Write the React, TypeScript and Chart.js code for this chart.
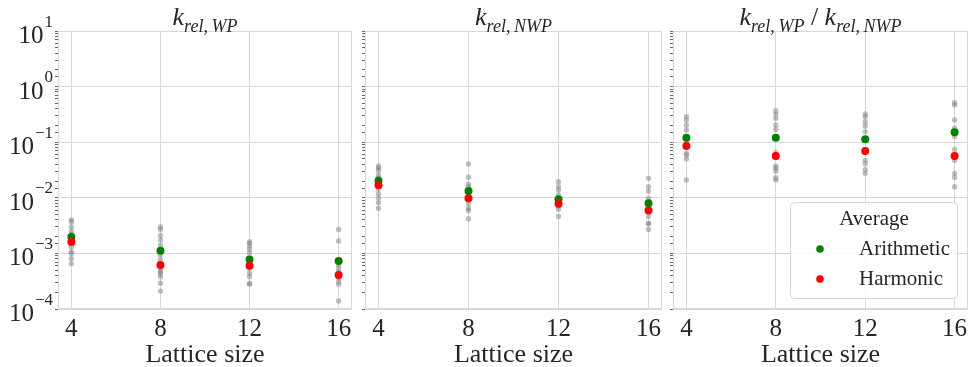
import React, { useEffect, useRef } from "react";
import { Chart, registerables } from "chart.js";

Chart.register(...registerables);

// ---------------- data ----------------
const latticeSizes = [4, 8, 12, 16];
const yDecades = [-4, -3, -2, -1, 0, 1];

const wpSamples = [
  [0.004, 0.0037, 0.003, 0.0025, 0.0022, 0.0019, 0.0017, 0.00132, 0.00107, 0.001, 0.00081, 0.00065],
  [0.003, 0.0027, 0.0021, 0.00174, 0.00141, 0.00112, 0.00093, 0.00076, 0.00062, 0.00058, 0.00052, 0.00047, 0.00043, 0.00038, 0.00029, 0.00021],
  [0.00162, 0.00152, 0.00136, 0.00119, 0.00102, 0.00078, 0.00066, 0.0006, 0.00054, 0.00044, 0.00038, 0.00029, 0.00028],
  [0.0027, 0.00167, 0.00073, 0.00062, 0.00054, 0.00047, 0.00041, 0.00036, 0.00031, 0.00028, 0.00014],
];
const wpArithmetic = [0.00197, 0.00112, 0.00078, 0.00073];
const wpHarmonic = [0.0016, 0.00062, 0.0006, 0.00041];

const nwpSamples = [
  [0.0373, 0.034, 0.0309, 0.0258, 0.0225, 0.0203, 0.0168, 0.0142, 0.0117, 0.0098, 0.0082, 0.0065],
  [0.0406, 0.0234, 0.0175, 0.0159, 0.0132, 0.011, 0.0091, 0.0078, 0.0065, 0.0059, 0.0042],
  [0.0195, 0.0159, 0.0138, 0.0112, 0.0094, 0.0085, 0.0078, 0.0071, 0.0062, 0.0046],
  [0.0224, 0.0159, 0.0132, 0.0098, 0.008, 0.0072, 0.0059, 0.0056, 0.0046, 0.0035, 0.0034, 0.0027],
];
const nwpArithmetic = [0.0203, 0.0132, 0.0094, 0.008];
const nwpHarmonic = [0.0168, 0.0098, 0.0078, 0.0059];

const ratioSamples = [
  [0.288, 0.251, 0.204, 0.166, 0.12, 0.105, 0.0855, 0.063, 0.059, 0.05, 0.021],
  [0.369, 0.32, 0.27, 0.204, 0.17, 0.12, 0.065, 0.0565, 0.037, 0.034, 0.03, 0.023, 0.021],
  [0.323, 0.288, 0.234, 0.195, 0.155, 0.113, 0.0695, 0.047, 0.041, 0.032, 0.0275],
  [0.513, 0.467, 0.251, 0.178, 0.151, 0.126, 0.074, 0.0565, 0.047, 0.0275, 0.0233, 0.0158],
];
const ratioArithmetic = [0.12, 0.12, 0.113, 0.151];
const ratioHarmonic = [0.0855, 0.0565, 0.0695, 0.0565];

const xTitle = "Lattice size";
const legendTitle = "Average";
const arithLabel = "Arithmetic";
const harmLabel = "Harmonic";

// ---------------- style ----------------
const FONT = '"Liberation Serif", "Times New Roman", serif';
const TEXT = "#262626";
const GRID = "#d8d8d8";
const GREEN = "#008000";
const RED = "#ff0000";
const GREY = "rgba(128,128,128,0.5)";

type Piece = { t: string; it?: boolean; sub?: boolean };

type PanelSpec = {
  left: number;
  width: number;
  yAxisWidth: number;
  padRight: number;
  title: Piece[];
  samples: number[][];
  arith: number[];
  harm: number[];
  yLabels: boolean;
  legend: boolean;
};

const kWP: Piece[] = [
  { t: "k", it: true },
  { t: "rel,\u2009WP", it: true, sub: true },
];
const kNWP: Piece[] = [
  { t: "k", it: true },
  { t: "rel,\u2009NWP", it: true, sub: true },
];

const panels: PanelSpec[] = [
  { left: 0, width: 356, yAxisWidth: 58, padRight: 3, title: kWP, samples: wpSamples, arith: wpArithmetic, harm: wpHarmonic, yLabels: true, legend: false },
  { left: 356, width: 310, yAxisWidth: 9, padRight: 4, title: kNWP, samples: nwpSamples, arith: nwpArithmetic, harm: nwpHarmonic, yLabels: false, legend: false },
  { left: 666, width: 306, yAxisWidth: 7, padRight: 1, title: [...kWP, { t: " / " }, ...kNWP], samples: ratioSamples, arith: ratioArithmetic, harm: ratioHarmonic, yLabels: false, legend: true },
];

const isDecade = (v: number) => Math.abs(Math.log10(v) - Math.round(Math.log10(v))) < 1e-6;

function drawPieces(ctx: CanvasRenderingContext2D, pieces: Piece[], cx: number, baseline: number) {
  const size = 26;
  const subSize = 18;
  const fontFor = (p: Piece) => `${p.it ? "italic " : ""}${p.sub ? subSize : size}px ${FONT}`;
  let total = 0;
  const widths = pieces.map((p) => {
    ctx.font = fontFor(p);
    const w = ctx.measureText(p.t).width;
    total += w;
    return w;
  });
  let x = cx - total / 2;
  ctx.textAlign = "left";
  ctx.textBaseline = "alphabetic";
  ctx.fillStyle = TEXT;
  pieces.forEach((p, i) => {
    ctx.font = fontFor(p);
    ctx.fillText(p.t, x, p.sub ? baseline + 7 : baseline);
    x += widths[i];
  });
}

function Panel({ spec }: { spec: PanelSpec }) {
  const ref = useRef<HTMLCanvasElement>(null);
  useEffect(() => {
    const canvas = ref.current;
    if (!canvas) return;
    const decor = {
      id: "decor",
      beforeDatasetsDraw(chart: any) {
        const { ctx, chartArea: ca } = chart;
        ctx.save();
        ctx.strokeStyle = GRID;
        ctx.lineWidth = 1;
        ctx.strokeRect(ca.left + 0.5, ca.top + 0.5, ca.right - ca.left - 1, ca.bottom - ca.top - 1);
        ctx.restore();
      },
      afterDraw(chart: any) {
        const { ctx, chartArea: ca } = chart;
        ctx.save();
        drawPieces(ctx, spec.title, (ca.left + ca.right) / 2, 25);
        if (spec.yLabels) {
          const ys = chart.scales.y;
          ctx.fillStyle = TEXT;
          ctx.textBaseline = "alphabetic";
          yDecades.forEach((d) => {
            const py = ys.getPixelForValue(Math.pow(10, d));
            const exp = d < 0 ? "\u2212" + Math.abs(d) : String(d);
            ctx.font = `17px ${FONT}`;
            const we = ctx.measureText(exp).width;
            const ex = 53 - we;
            ctx.textAlign = "left";
            ctx.fillText(exp, ex, py - 4.5);
            ctx.font = `25px ${FONT}`;
            ctx.textAlign = "right";
            ctx.fillText("10", ex - 1, py + 12);
          });
        }
        if (spec.legend) {
          const bw = 167;
          const bh = 96;
          const bx = ca.right - 11 - bw;
          const by = ca.bottom - 11 - bh;
          ctx.beginPath();
          ctx.roundRect(bx + 0.5, by + 0.5, bw, bh, 4);
          ctx.fillStyle = "rgba(255,255,255,0.85)";
          ctx.fill();
          ctx.strokeStyle = GRID;
          ctx.lineWidth = 1;
          ctx.stroke();
          ctx.fillStyle = TEXT;
          ctx.font = `21px ${FONT}`;
          ctx.textAlign = "center";
          ctx.textBaseline = "middle";
          ctx.fillText(legendTitle, bx + 84, by + 17);
          const items = [
            { label: arithLabel, color: GREEN, dy: 47 },
            { label: harmLabel, color: RED, dy: 77 },
          ];
          items.forEach((it) => {
            ctx.beginPath();
            ctx.arc(bx + 30, by + it.dy, 3.8, 0, Math.PI * 2);
            ctx.fillStyle = it.color;
            ctx.fill();
            ctx.fillStyle = TEXT;
            ctx.textAlign = "left";
            ctx.fillText(it.label, bx + 69, by + it.dy);
          });
        }
        ctx.restore();
      },
    };

    const chart = new Chart(canvas, {
      type: "scatter",
      data: {
        datasets: [
          {
            label: harmLabel,
            data: latticeSizes.map((x, i) => ({ x, y: spec.harm[i] })),
            backgroundColor: RED,
            borderWidth: 0,
            pointRadius: 4,
            order: 0,
          },
          {
            label: arithLabel,
            data: latticeSizes.map((x, i) => ({ x, y: spec.arith[i] })),
            backgroundColor: GREEN,
            borderWidth: 0,
            pointRadius: 4,
            order: 1,
          },
          {
            label: "samples",
            data: spec.samples.flatMap((vals, i) => vals.map((v) => ({ x: latticeSizes[i], y: v }))),
            backgroundColor: GREY,
            borderWidth: 0,
            pointRadius: 2.7,
            order: 2,
          },
        ],
      },
      options: {
        responsive: false,
        animation: false,
        devicePixelRatio: 1,
        layout: { padding: { left: 0, right: spec.padRight, top: 31, bottom: 0 } },
        plugins: { legend: { display: false }, tooltip: { enabled: false }, title: { display: false } },
        scales: {
          x: {
            type: "linear",
            min: 3.4,
            max: 16.6,
            afterBuildTicks: (s: any) => {
              s.ticks = latticeSizes.map((v) => ({ value: v }));
            },
            afterFit: (s: any) => {
              s.height = 58;
              s.paddingLeft = 0;
              s.paddingRight = 0;
            },
            grid: { color: GRID, lineWidth: 1, drawTicks: false },
            border: { display: false },
            ticks: {
              font: { family: FONT, size: 25 },
              color: TEXT,
              padding: 5,
              maxRotation: 0,
              autoSkip: false,
            },
            title: {
              display: true,
              text: xTitle,
              font: { family: FONT, size: 26 },
              color: TEXT,
              padding: { top: 0, bottom: -4 },
            },
          },
          y: {
            type: "logarithmic",
            min: 1e-4,
            max: 10,
            afterFit: (s: any) => {
              s.width = spec.yAxisWidth;
              s.paddingTop = 0;
              s.paddingBottom = 0;
            },
            grid: {
              color: (c: any) => (c.tick && isDecade(c.tick.value) ? GRID : "rgba(0,0,0,0)"),
              tickColor: "#666",
              tickLength: 3,
              drawTicks: true,
              lineWidth: 1,
            },
            border: { display: false },
            ticks: { display: false, autoSkip: false, callback: () => "" },
          },
        },
      },
      plugins: [decor],
    } as any);
    return () => chart.destroy();
  }, [spec]);

  return (
    <canvas
      ref={ref}
      width={spec.width}
      height={367}
      style={{ position: "absolute", left: spec.left, top: 0, width: spec.width, height: 367 }}
    />
  );
}

export default function App() {
  return (
    <div style={{ position: "absolute", left: 0, top: 0, width: 972, height: 367, background: "#fff", overflow: "hidden" }}>
      {panels.map((p, i) => (
        <Panel key={i} spec={p} />
      ))}
    </div>
  );
}
